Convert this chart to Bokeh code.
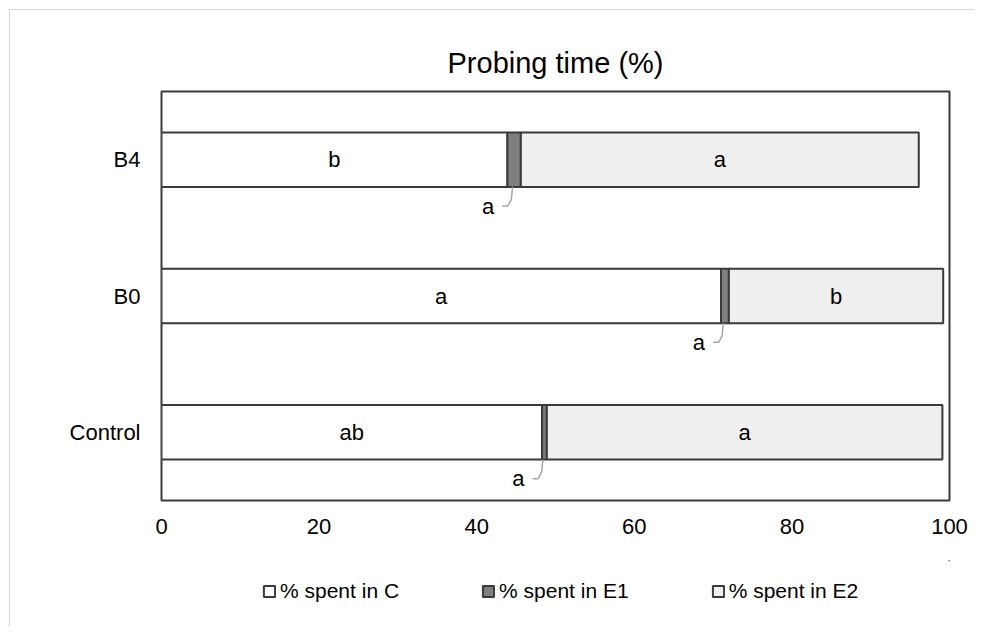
from bokeh.plotting import figure
from bokeh.models import Range1d, FixedTicker, Legend, LegendItem
from bokeh.layouts import column
from bokeh.embed import file_html
from bokeh.resources import INLINE

# ---- data ----
categories = ["Control", "B0", "B4"]
pct_C = [48.3, 71.0, 43.9]
pct_E1 = [0.6, 1.0, 1.7]
pct_E2 = [50.2, 27.2, 50.5]
letters_C = ["ab", "a", "b"]
letters_E1 = ["a", "a", "a"]
letters_E2 = ["a", "b", "a"]
x_ticks = [0, 20, 40, 60, 80, 100]
legend_labels = ["% spent in C", "% spent in E1", "% spent in E2"]

FONT = "Liberation Sans"
EDGE = "#3a3a3a"
FILLS = ["white", "#7f7f7f", "#efefef"]

ypos = [i + 0.5 for i in range(len(categories))]
c_end = pct_C
e1_end = [c + e for c, e in zip(pct_C, pct_E1)]
e2_end = [a + e for a, e in zip(e1_end, pct_E2)]

p = figure(width=974, height=560, output_backend="svg", toolbar_location=None,
           x_range=Range1d(0, 100), y_range=Range1d(0, len(categories)),
           min_border_left=161, min_border_right=25, min_border_top=91, min_border_bottom=60)
p.border_fill_color = None
p.background_fill_color = "white"

bar_h = 0.4
rC = p.hbar(y=ypos, left=0, right=c_end, height=bar_h, fill_color=FILLS[0],
            line_color=EDGE, line_width=2)
rE1 = p.hbar(y=ypos, left=c_end, right=e1_end, height=bar_h, fill_color=FILLS[1],
             line_color=EDGE, line_width=2)
rE2 = p.hbar(y=ypos, left=e1_end, right=e2_end, height=bar_h, fill_color=FILLS[2],
             line_color=EDGE, line_width=2)

# letters inside bars
midC = [c / 2 for c in c_end]
midE2 = [(a + b) / 2 for a, b in zip(e1_end, e2_end)]
for xv, tv in ((midC, letters_C), (midE2, letters_E2)):
    p.text(x=xv, y=ypos, text=tv, text_align="center", text_baseline="middle",
           text_font_size="22px", text_font={"value": FONT}, text_color="black")

# E1 letters below with leader lines
midE1 = [(a + b) / 2 for a, b in zip(c_end, e1_end)]
yb = [y - bar_h / 2 for y in ypos]
p.text(x=[m - 3.3 for m in midE1], y=[b - 0.14 for b in yb], text=letters_E1,
       text_align="center", text_baseline="middle",
       text_font_size="22px", text_font={"value": FONT}, text_color="black")
xs = [[m - 1.5, m - 0.8, m - 0.35, m - 0.2] for m in midE1]
ys = [[b - 0.14, b - 0.14, b - 0.09, b] for b in yb]
p.multi_line(xs=xs, ys=ys, line_color="#a6a6a6", line_width=1.5)

# axes
p.xaxis.ticker = FixedTicker(ticks=x_ticks)
p.yaxis.ticker = FixedTicker(ticks=ypos)
p.yaxis.major_label_overrides = {y: c for y, c in zip(ypos, categories)}
for ax in (p.xaxis, p.yaxis):
    ax.axis_line_color = None
    ax.major_tick_line_color = None
    ax.minor_tick_line_color = None
    ax.major_label_text_font = FONT
    ax.major_label_text_color = "black"
    ax.major_label_text_font_size = "22px"
p.xaxis.major_label_standoff = 12
p.yaxis.major_label_standoff = 15
p.grid.visible = False
p.outline_line_color = EDGE
p.outline_line_width = 2
p.outline_line_alpha = 1

# title
p.title.text = "Probing time (%)"
p.title.align = "center"
p.title.text_font = FONT
p.title.text_font_size = "29px"
p.title.text_font_style = "normal"
p.title.text_color = "black"
p.title.standoff = 26

# legend strip (own small plot, frame aligned with the main plot's frame)
lg = figure(width=974, height=67, output_backend="svg", toolbar_location=None,
            x_range=Range1d(0, 1), y_range=Range1d(0, 1),
            x_axis_location=None, y_axis_location=None,
            min_border_left=161, min_border_right=25, min_border_top=0, min_border_bottom=0)
lg.grid.visible = False
lg.outline_line_color = None
lg.outline_line_alpha = 0
lg.border_fill_color = None
lg.background_fill_color = None
# legend-only renderers: their single bar lies far outside the strip's ranges
dummies = [lg.hbar(y=[50], left=[50], right=[51], height=0.1, fill_color=f,
                   line_color=EDGE, line_width=2) for f in FILLS]
legend = Legend(items=[LegendItem(label=l, renderers=[r]) for l, r in zip(legend_labels, dummies)],
                location=(101, 24), orientation="horizontal", spacing=82, padding=0, margin=0,
                border_line_color=None, background_fill_alpha=0, glyph_width=14, glyph_height=14,
                label_standoff=4, label_text_font=FONT, label_text_font_size="21px",
                label_text_color="black")
lg.add_layout(legend, "center")

layout = column(p, lg, spacing=0)
layout.styles = {
    "background-color": "white",
    "background-image": "linear-gradient(#d6d6d6,#d6d6d6), linear-gradient(#d6d6d6,#d6d6d6)",
    "background-size": "1px 100%, 100% 1px",
    "background-position": "9px 9px, 9px 9px",
    "background-repeat": "no-repeat",
}

open("out.html", "w").write(file_html(layout, INLINE))
